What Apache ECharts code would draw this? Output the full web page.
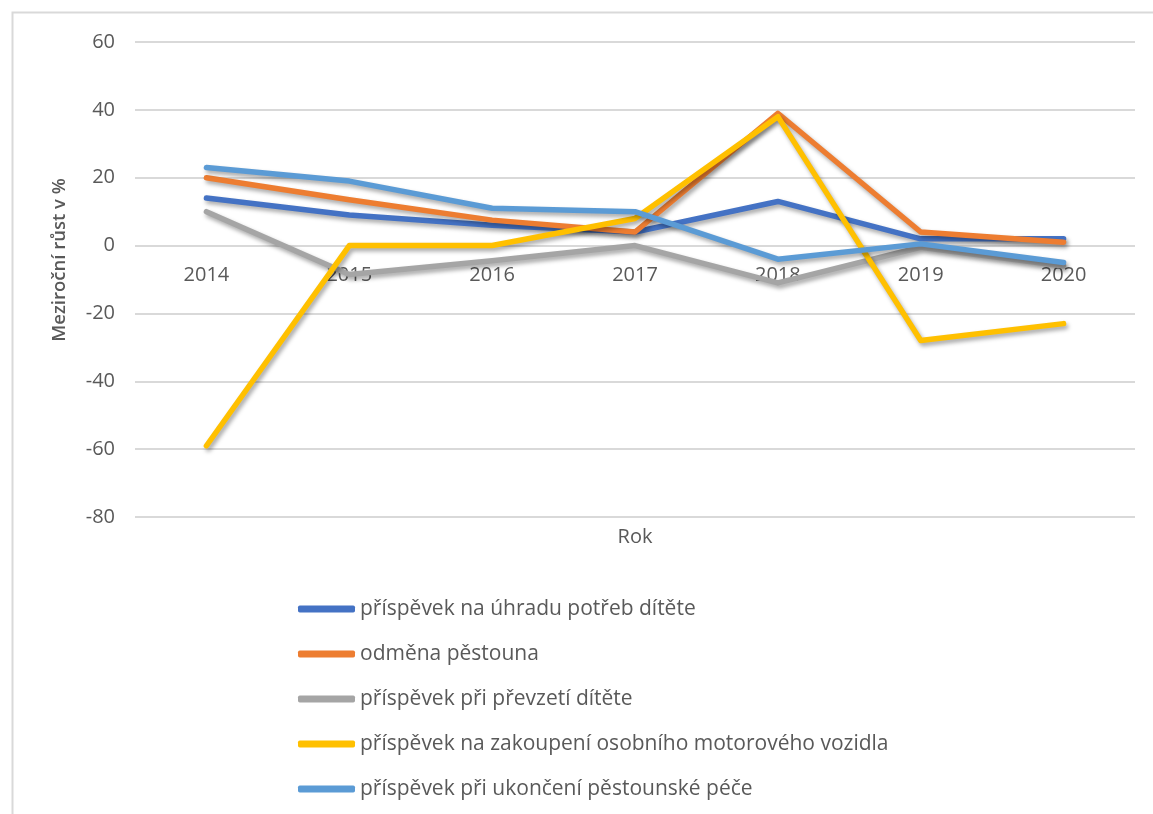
<!DOCTYPE html>
<html>
<head>
<meta charset="utf-8">
<script src="https://cdn.jsdelivr.net/npm/echarts@6/dist/echarts.min.js"></script>
<style>
html,body{margin:0;padding:0;background:#fff;}
#chart{width:1153px;height:814px;}
</style>
</head>
<body>
<div id="chart"></div>
<script>
var years = ['2014','2015','2016','2017','2018','2019','2020'];
var seriesNames = [
  'příspěvek na úhradu potřeb dítěte',
  'odměna pěstouna',
  'příspěvek při převzetí dítěte',
  'příspěvek na zakoupení osobního motorového vozidla',
  'příspěvek při ukončení pěstounské péče'
];
var uhradaPotreb   = [14, 9, 6, 4, 13, 2, 2];
var odmenaPestouna = [20, 13.5, 7.5, 4, 39, 4, 1];
var prevzetiDitete = [10, -8.5, -4.5, 0, -11, -0.5, -6];
var zakoupeniVozidla = [-59, 0, 0, 8, 38, -28, -23];
var ukonceniPece   = [23, 19, 11, 10, -4, 0.5, -5];
var seriesValues = [uhradaPotreb, odmenaPestouna, prevzetiDitete, zakoupeniVozidla, ukonceniPece];
var colors = ['#4472C4', '#ED7D31', '#A5A5A5', '#FFC000', '#5B9BD5'];
var yMin = -80, yMax = 60, yStep = 20;

var FONT = '"Open Sans", "Noto Sans", sans-serif';
var chart = echarts.init(document.getElementById('chart'), null, {renderer: 'canvas'});
chart.setOption({
  backgroundColor: '#ffffff',
  animation: false,
  color: colors,
  grid: {left: 135, right: 18, top: 42, bottom: 814 - 517, containLabel: false},
  legend: {
    orient: 'vertical',
    left: 293,
    top: 592,
    icon: 'roundRect',
    itemWidth: 57,
    itemHeight: 7,
    itemGap: 21,
    data: seriesNames,
    textStyle: {fontFamily: FONT, fontSize: 21, color: '#595959', lineHeight: 24}
  },
  xAxis: {
    type: 'category',
    data: years,
    boundaryGap: true,
    position: 'bottom',
    offset: 0,
    axisLine: {show: false, onZero: false},
    axisTick: {show: false},
    axisLabel: {margin: 20, fontFamily: FONT, fontSize: 20, color: '#595959'},
    splitLine: {show: false}
  },
  yAxis: {
    type: 'value',
    min: yMin, max: yMax, interval: yStep,
    axisLine: {show: false},
    axisTick: {show: false},
    axisLabel: {margin: 20, fontFamily: FONT, fontSize: 20, color: '#595959'},
    splitLine: {lineStyle: {color: '#d9d9d9', width: 2}}
  },
  graphic: [
    {type: 'rect', left: 10, top: 10, shape: {width: 1200, height: 900},
     style: {fill: 'none', stroke: '#d9d9d9', lineWidth: 2}, silent: true, z: -1},
    {type: 'text', x: 60, y: 260, rotation: Math.PI / 2,
     style: {text: 'Meziroční růst v %', fontFamily: FONT, fontSize: 18.5, fontWeight: 600, fill: '#595959', align: 'center', verticalAlign: 'middle'}},
    {type: 'text', x: 635, y: 537,
     style: {text: 'Rok', fontFamily: FONT, fontSize: 20, fill: '#595959', align: 'center', verticalAlign: 'middle'}}
  ],
  series: seriesNames.map(function (name, i) {
    return {
      name: name,
      type: 'line',
      data: seriesValues[i],
      symbol: 'none',
      smooth: false,
      lineStyle: {width: 5.5, cap: 'round', join: 'round', color: colors[i],
        shadowColor: 'rgba(0,0,0,0.35)', shadowBlur: 4, shadowOffsetX: 2, shadowOffsetY: 3},
      z: 2 + i
    };
  })
});
// place the category axis on the value 0 line, using the y axis scale
var zeroY = chart.convertToPixel({yAxisIndex: 0}, 0);
var bottomY = chart.convertToPixel({yAxisIndex: 0}, yMin);
chart.setOption({xAxis: {offset: zeroY - bottomY}});
</script>
</body>
</html>
